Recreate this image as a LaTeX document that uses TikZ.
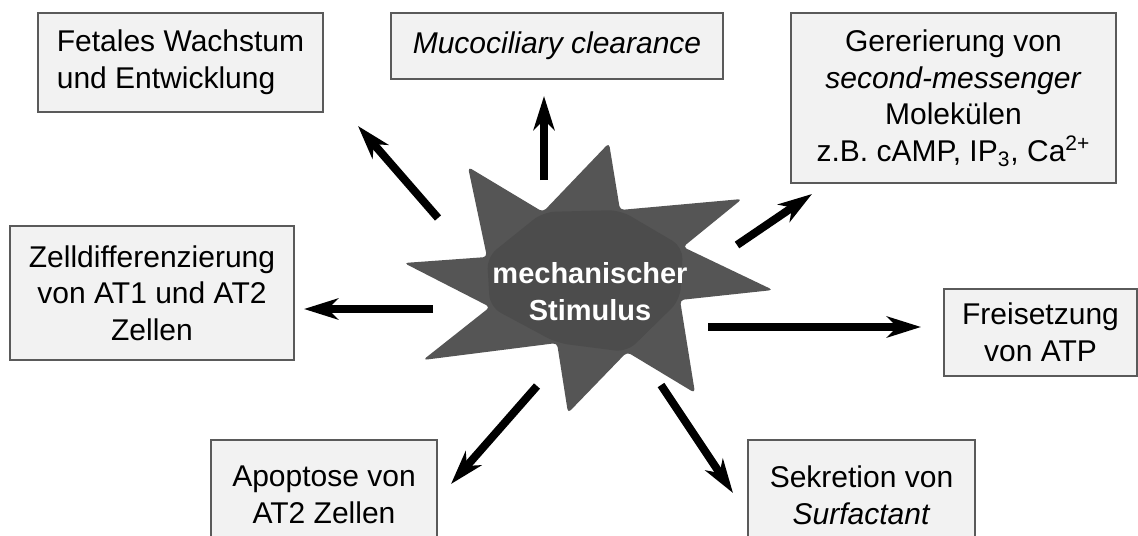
\documentclass[tikz,border=0pt]{standalone}
\usepackage{fontspec}
\setmainfont{Liberation Sans}
\usetikzlibrary{arrows.meta}
\definecolor{boxfill}{HTML}{F2F2F2}
\definecolor{boxline}{HTML}{5A5A5A}
\definecolor{starfill}{HTML}{555555}
\definecolor{starcore}{HTML}{4C4C4C}
\tikzset{
  infobox/.style={draw=boxline, fill=boxfill, line width=0.8pt, inner sep=0pt,
    font=\fontsize{15}{18.3}\selectfont, align=center},
  effect/.style={line width=4pt, -{Stealth[length=17pt,width=10.5pt,inset=5pt]}},
}
\begin{document}
\begin{tikzpicture}[x=0.5pt,y=-0.5pt]
\useasboundingbox (0,0) rectangle (1138,535);
\clip (0,0) rectangle (1138,535);
\fill[white] (0,0) rectangle (1138,535);

% star
\fill[starfill, rounded corners=2pt] (609,143) -- (620,210) -- (742,199) -- (683,247) -- (773,290) -- (680,300)
  -- (695,393) -- (627,352) -- (568,413) -- (557,343) -- (423,360) -- (490,307)
  -- (404,263) -- (487,257) -- (468,167) -- (543,212) -- cycle;
\fill[starcore, rounded corners=6pt] (543,212) -- (620,210) -- (683,247) -- (680,300) -- (627,352) -- (557,343) -- (490,307) -- (487,257) -- cycle;
\node[font=\bfseries\fontsize{14.5}{18.5}\selectfont, text=white, align=center] (stim) at (590,292) {mechanischer\\Stimulus};

% boxes
\node[infobox, minimum width=142.5pt, minimum height=49.5pt, align=left] (fetal) at (180.5,62.5) {Fetales Wachstum\\und Entwicklung};
\node[infobox, minimum width=166pt, minimum height=33pt] (muco) at (557,46) {\itshape Mucociliary clearance};
\node[infobox, minimum width=162.5pt, minimum height=85pt] (second) at (953.5,98) {Gererierung von\\\textit{second-messenger}\\Molekülen\\z.B. cAMP, IP\textsubscript{3}, Ca\textsuperscript{2+}};
\node[infobox, minimum width=142pt, minimum height=67pt] (diff) at (152,293) {Zelldifferenzierung\\von AT1 und AT2\\Zellen};
\node[infobox, minimum width=96.5pt, minimum height=43.5pt] (atp) at (1040.5,332.5) {Freisetzung\\von ATP};
\node[infobox, minimum width=113pt, minimum height=55pt] (apop) at (324,495) {Apoptose von\\AT2 Zellen};
\node[infobox, minimum width=113.5pt, minimum height=55pt] (surf) at (861.5,495) {Sekretion von\\\textit{Surfactant}};

% arrow ends
\coordinate (t1) at (438,218); \coordinate (h1) at (358,126);
\coordinate (t2) at (544,180); \coordinate (h2) at (544,96);
\coordinate (t3) at (737,245); \coordinate (h3) at (812,194);
\coordinate (t4) at (433,309); \coordinate (h4) at (304,309);
\coordinate (t5) at (708,327); \coordinate (h5) at (921,327);
\coordinate (t6) at (537,386); \coordinate (h6) at (451,484);
\coordinate (t7) at (661,385); \coordinate (h7) at (733,493);

\draw[effect] (t1) -- (h1);
\draw[effect] (t2) -- (h2);
\draw[effect] (t3) -- (h3);
\draw[effect] (t4) -- (h4);
\draw[effect] (t5) -- (h5);
\draw[effect] (t6) -- (h6);
\draw[effect] (t7) -- (h7);
\end{tikzpicture}
\end{document}
